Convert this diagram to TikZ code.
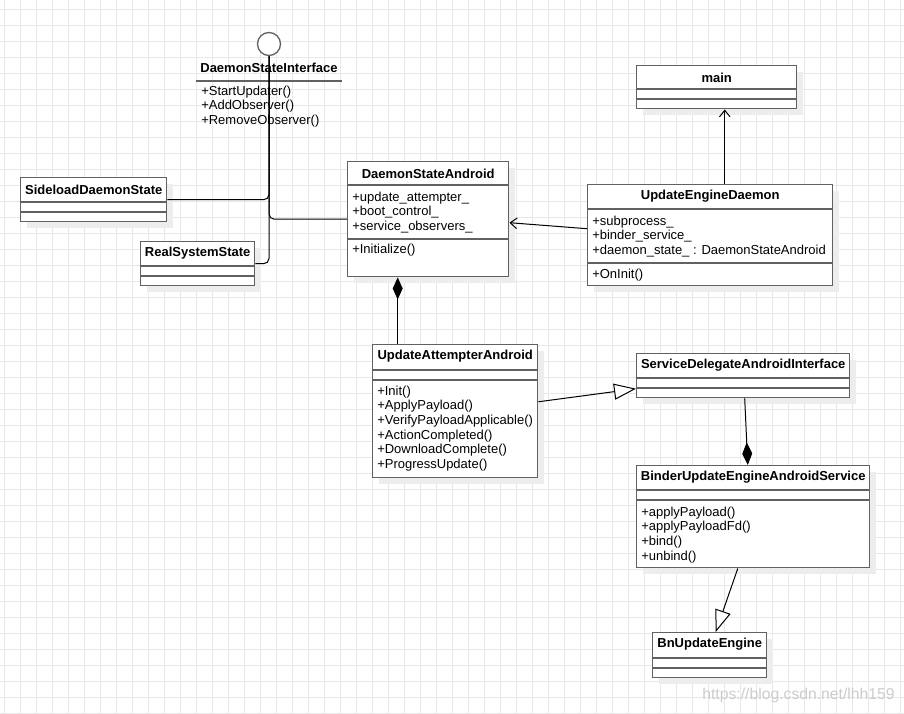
\documentclass[tikz,border=0pt]{standalone}
\usepackage{fontspec}
\setmainfont{Liberation Sans}
\usetikzlibrary{arrows.meta,calc,shadows}

\begin{document}
\begin{tikzpicture}[x=0.75pt,y=-0.75pt,font=\fontsize{9.75}{11}\selectfont,
  gridline/.style={draw=black!9,line width=0.75pt},
  cls/.style={draw=black!62,line width=1.1pt,fill=white,inner sep=0,anchor=north west,
    drop shadow={shadow xshift=5pt,shadow yshift=-5pt,fill=black!7,opacity=1}},
  divider/.style={draw=black!62,line width=1.1pt},
  title/.style={font=\fontsize{9.75}{11}\selectfont\bfseries,inner sep=0},
  members/.style={anchor=north west,align=left,inner sep=0},
  link/.style={draw=black,line width=0.75pt}]
\fill[white] (0,0) rectangle (904,714);
\useasboundingbox (0,0) rectangle (904,714);
\foreach \gx in {4,20,...,900} \draw[gridline] (\gx,0) -- (\gx,714);
\foreach \gy in {9,25,...,713} \draw[gridline] (0,\gy) -- (904,\gy);

% classes
\node[cls,minimum width=109.5pt,minimum height=33pt] (sds) at (20,177) {};
\node[cls,minimum width=85.5pt,minimum height=33pt] (rss) at (140,241) {};
\node[cls,minimum width=120.75pt,minimum height=86.25pt] (dsa) at (347,161) {};
\node[cls,minimum width=120pt,minimum height=32.25pt] (main) at (636,65) {};
\node[cls,minimum width=183.75pt,minimum height=75.75pt] (ued) at (587,184) {};
\node[cls,minimum width=123.75pt,minimum height=99.75pt] (uaa) at (372,344) {};
\node[cls,minimum width=159.75pt,minimum height=33pt] (sdai) at (636,353) {};
\node[cls,minimum width=174.75pt,minimum height=76.5pt] (bueas) at (636,465) {};
\node[cls,minimum width=85.5pt,minimum height=33.75pt] (bue) at (652,632) {};
\foreach \n/\a/\b in {sds/25/35,rss/25/35,dsa/24/78,main/24/34,ued/25/79,uaa/26/36,sdai/25/35,bueas/25/35,bue/26/36}{
  \draw[divider] ($(\n.north west)+(0,\a)$) -- ($(\n.north east)+(0,\a)$);
  \draw[divider] ($(\n.north west)+(0,\b)$) -- ($(\n.north east)+(0,\b)$);
}
\foreach \n/\t in {sds/SideloadDaemonState,rss/RealSystemState,dsa/DaemonStateAndroid,main/main,ued/UpdateEngineDaemon,uaa/UpdateAttempterAndroid,sdai/ServiceDelegateAndroidInterface,bueas/BinderUpdateEngineAndroidService,bue/BnUpdateEngine}
  \node[title] (\n-t) at ($(\n.north)+(0,12.5)$) {\t};

\node[members] (dsa-a) at ($(dsa.north west)+(5,30.5)$) {+update\_attempter\_\\+boot\_control\_\\+service\_observers\_};
\node[members] (dsa-m) at ($(dsa.north west)+(5,82.5)$) {+Initialize()};
\node[members] (ued-a) at ($(ued.north west)+(5,31.5)$) {+subprocess\_\\+binder\_service\_\\+daemon\_state\_ : DaemonStateAndroid};
\node[members] (ued-m) at ($(ued.north west)+(5,84.5)$) {+OnInit()};
\node[members] (uaa-m) at ($(uaa.north west)+(5,41.5)$) {+Init()\\+ApplyPayload()\\+VerifyPayloadApplicable()\\+ActionCompleted()\\+DownloadComplete()\\+ProgressUpdate()};
\node[members] (bueas-m) at ($(bueas.north west)+(5,41.5)$) {+applyPayload()\\+applyPayloadFd()\\+bind()\\+unbind()};

% interface
\node[draw=black!62,line width=1pt,circle,minimum size=17.25pt,inner sep=0,fill=white] (iface) at (269,44) {};
\node[title] (iface-t) at (269,68) {DaemonStateInterface};
\draw[divider] (196,81) -- (342,81);
\node[members] (iface-m) at (201,85.5) {+StartUpdater()\\+AddObserver()\\+RemoveObserver()};

% links
\draw[link,rounded corners=4pt] (iface.south) |- (sds.east);
\draw[link,rounded corners=4pt] (iface.south) |- (dsa.west);
\draw[link,rounded corners=4pt] (iface.south) |- (rss.east);
\draw[link,-{Straight Barb[length=5pt,width=8pt]}] ([yshift=4.9pt]ued.west) -- ([yshift=-2.6pt]dsa.east);
\draw[link,-{Straight Barb[length=5pt,width=8pt]}] ([xshift=10.9pt]ued.north) -- ([xshift=10.9pt]ued.north |- main.south);
\draw[link,{Diamond[length=16.5pt,width=7.5pt]}-] ([xshift=-22.9pt]dsa.south) -- ([xshift=-22.9pt]dsa.south |- uaa.north);
\draw[link,-{Triangle[open,length=16.5pt,width=12pt,fill=white]}] ([yshift=7.1pt]uaa.east) -- ([yshift=-9.75pt]sdai.west);
\draw[link,-{Diamond[length=17pt,width=7.5pt]}] ([xshift=1.1pt]sdai.south) -- ([xshift=-4.1pt]bueas.north);
\draw[link,-{Triangle[open,length=16.5pt,width=12pt,fill=white]}] ([xshift=-11.6pt]bueas.south) -- ([xshift=4.5pt]bue.north);

\node[anchor=east,text=black!20,font=\fontsize{11.8}{12}\selectfont,inner sep=0] (wm) at (895,695) {https://blog.csdn.net/lhh159};
\end{tikzpicture}
\end{document}
